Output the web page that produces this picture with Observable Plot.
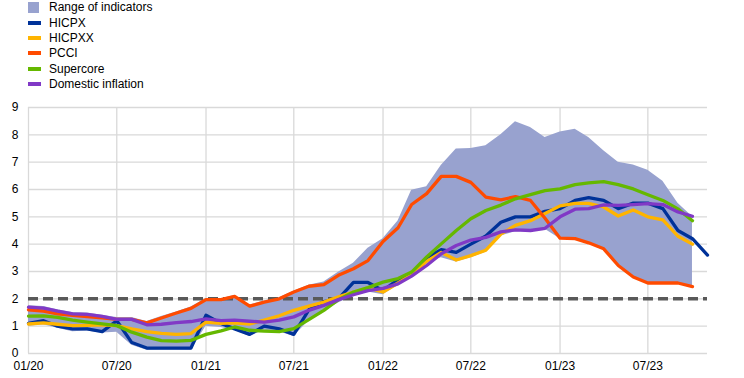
<!DOCTYPE html>
<html><head><meta charset="utf-8">
<script src="https://cdn.jsdelivr.net/npm/d3@7"></script>
<script src="https://cdn.jsdelivr.net/npm/@observablehq/plot@0.6"></script>
<style>
body{margin:0;background:#fff;font-family:"Liberation Sans",Arial,sans-serif;}
#legend{height:92px;position:relative;font-size:12px;color:#000;width:744px}
.item{position:absolute;left:0;height:14px;display:flex;align-items:center;white-space:nowrap}
.sw{position:absolute;left:28px}
.lbl{position:absolute;left:49px;line-height:14px}
</style></head><body>
<div id="legend"></div><div id="chart"></div>
<script>
// Monthly data, 01/2020 onwards
const seriesNames = ["HICPX", "HICPXX", "PCCI", "Supercore", "Domestic inflation"];
const seriesColors = ["#003299", "#FFB400", "#FF4B00", "#65B800", "#8139C6"];
const bandName = "Range of indicators";
const bandColor = "#98A2CF";

const hicpx = [1.1,1.2,1.0,0.9,0.9,0.8,1.2,0.4,0.2,0.2,0.2,0.2,
  1.4,1.1,0.9,0.7,1.0,0.9,0.7,1.6,1.9,2.0,2.6,2.6,
  2.3,2.7,2.9,3.5,3.8,3.7,4.0,4.3,4.8,5.0,5.0,5.2,
  5.3,5.6,5.7,5.6,5.3,5.5,5.5,5.3,4.5,4.2,3.6];
const hicpxx = [1.08,1.12,1.07,1.02,1.03,1.05,1.02,0.9,0.8,0.74,0.7,0.73,
  1.15,1.1,1.12,1.08,1.22,1.38,1.58,1.73,1.88,2.07,2.25,2.4,
  2.25,2.58,2.88,3.37,3.7,3.42,3.58,3.78,4.37,4.69,4.86,5.12,
  5.4,5.49,5.49,5.36,5.03,5.25,5.0,4.89,4.29,4.0];
const pcci = [1.6,1.55,1.45,1.4,1.35,1.3,1.25,1.25,1.12,1.3,1.48,1.65,
  1.97,1.97,2.09,1.73,1.88,2.0,2.25,2.46,2.52,2.86,3.1,3.4,
  4.1,4.6,5.45,5.85,6.48,6.48,6.26,5.72,5.62,5.74,5.6,4.95,
  4.22,4.2,4.05,3.83,3.22,2.8,2.58,2.58,2.58,2.45];
const supercore = [1.37,1.38,1.32,1.22,1.15,1.08,1.02,0.78,0.6,0.47,0.45,0.48,
  0.7,0.83,0.97,0.85,0.82,0.8,0.91,1.24,1.58,1.97,2.25,2.41,
  2.61,2.74,2.98,3.53,4.01,4.5,4.93,5.23,5.43,5.66,5.81,5.96,
  6.02,6.18,6.24,6.29,6.18,6.02,5.81,5.6,5.29,4.86];
const domestic = [1.7,1.66,1.55,1.45,1.43,1.36,1.25,1.25,1.05,1.07,1.13,1.17,
  1.27,1.2,1.22,1.18,1.15,1.22,1.34,1.58,1.76,1.97,2.15,2.3,
  2.38,2.55,2.83,3.22,3.65,3.95,4.15,4.25,4.45,4.52,4.5,4.58,
  5.0,5.28,5.3,5.44,5.42,5.45,5.48,5.45,5.18,5.02];
const rangeHigh = [1.75,1.72,1.6,1.5,1.48,1.4,1.32,1.32,1.17,1.35,1.52,1.7,
  2.0,2.0,2.12,1.77,1.92,2.04,2.28,2.5,2.62,2.97,3.3,3.85,
  4.2,4.85,5.97,6.1,6.88,7.48,7.5,7.6,8.0,8.48,8.27,7.9,
  8.1,8.2,7.9,7.42,7.0,6.9,6.7,6.3,5.5,5.0];
const rangeLow = [1.0,1.05,0.92,0.8,0.82,0.75,0.78,0.3,0.12,0.13,0.13,0.12,
  1.0,0.95,0.85,0.62,0.85,0.8,0.62,1.2,1.55,1.85,2.1,2.25,
  2.15,2.5,2.8,3.3,3.5,3.35,3.5,3.7,4.3,4.45,4.45,4.55,
  4.2,4.18,4.02,3.8,3.2,2.78,2.55,2.55,2.55,2.42];
const target = 2;
const yTicks = [0,1,2,3,4,5,6,7,8,9];
const xTickLabels = ["01/20","07/20","01/21","07/21","01/22","07/22","01/23","07/23"];

const months = d3.utcMonths(new Date(Date.UTC(2020,0,1)), new Date(Date.UTC(2023,11,1)));
const parseTick = d3.utcParse("%m/%y");
const xTicks = xTickLabels.map(parseTick);

const allSeries = [hicpx, hicpxx, pcci, supercore, domestic];
const lineRows = allSeries.map((vals, k) => vals.map((v, i) => ({date: months[i], value: v, series: seriesNames[k]})));
const bandRows = rangeHigh.map((h, i) => ({date: months[i], lo: rangeLow[i], hi: h}));

// Legend
const legend = document.getElementById("legend");
const centers = [7, 23, 38, 53, 69, 84];
const items = [{name: bandName, color: bandColor, box: true}]
  .concat(seriesNames.map((n, k) => ({name: n, color: seriesColors[k], box: false})));
items.forEach((it, j) => {
  const top = centers[j];
  const sw = document.createElement("div");
  sw.className = "sw";
  if (it.box) { sw.style.cssText = `left:28px;top:${top-5}px;width:11px;height:11px;background:${it.color}`; }
  else { sw.style.cssText = `left:28px;top:${top-2}px;width:13px;height:4px;background:${it.color}`; }
  legend.appendChild(sw);
  const t = document.createElement("div");
  t.className = "lbl";
  t.style.top = (top - 7) + "px";
  t.textContent = it.name;
  legend.appendChild(t);
});

const chart = Plot.plot({
  width: 744,
  height: 286,
  marginLeft: 28,
  marginRight: 37,
  marginTop: 15,
  marginBottom: 25,
  style: {fontFamily: '"Liberation Sans", Arial, sans-serif', fontSize: "12px", color: "#000", background: "#fff"},
  x: {type: "utc", domain: [months[0], months[months.length - 1]]},
  y: {domain: [0, 9]},
  marks: [
    Plot.ruleY(yTicks, {stroke: "#d9d9d9", strokeWidth: 1.3}),
    Plot.ruleX(xTicks, {stroke: "#d9d9d9", strokeWidth: 1.3}),
    Plot.areaY(bandRows, {x: "date", y1: "lo", y2: "hi", fill: bandColor, fillOpacity: 1}),
    Plot.ruleY([target], {stroke: "#595959", strokeWidth: 3.5, strokeDasharray: "10,5"}),
    ...lineRows.map((rows, k) => Plot.lineY(rows, {x: "date", y: "value", stroke: seriesColors[k], strokeWidth: 3.3, strokeLinejoin: "round"})),
    Plot.axisX({ticks: xTicks, tickFormat: d3.utcFormat("%m/%y"), tickSize: 0, tickPadding: 8, label: null}),
    Plot.axisY({ticks: yTicks, tickSize: 0, tickPadding: 10, label: null})
  ]
});
document.getElementById("chart").appendChild(chart);
</script></body></html>
